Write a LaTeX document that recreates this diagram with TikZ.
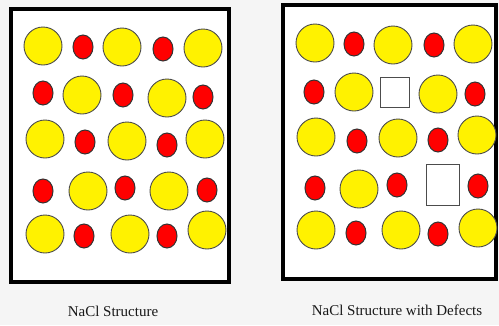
\documentclass[tikz,border=0pt]{standalone}
\usepackage{fontspec}
\setmainfont{Liberation Serif}
\usetikzlibrary{shapes.geometric}
\begin{document}
\begin{tikzpicture}[x=1pt,y=-1pt,
  cl/.style={circle,draw=black!70,line width=0.9pt,fill=yellow,minimum size=38pt,inner sep=0pt},
  na/.style={ellipse,draw=black!80,line width=1pt,fill=red,minimum width=20pt,minimum height=24pt,inner sep=0pt},
  vac/.style={rectangle,draw=black!70,line width=0.9pt,fill=white,inner sep=0pt},
  frame/.style={draw=black,line width=4pt,fill=white},
  caption/.style={font=\fontsize{15}{17}\selectfont,text=black!90,inner sep=0pt}]
\fill[gray!8] (0,0) rectangle (499,325);
\useasboundingbox (0,0) rectangle (499,325);
% lattice frames
\draw[frame] (11,9) rectangle (229,282);
\draw[frame] (283,5) rectangle (496,279);
% perfect lattice
\node[cl] (a11) at (43,46) {};
\node[na] (a12) at (83,47) {};
\node[cl] (a13) at (122,47) {};
\node[na] (a14) at (163,49) {};
\node[cl] (a15) at (203,48) {};
\node[na] (a21) at (43,93) {};
\node[cl] (a22) at (82,95) {};
\node[na] (a23) at (123,95) {};
\node[cl] (a24) at (167,98) {};
\node[na] (a25) at (203,97) {};
\node[cl] (a31) at (45,139) {};
\node[na] (a32) at (85,142) {};
\node[cl] (a33) at (127,141) {};
\node[na] (a34) at (167,145) {};
\node[cl] (a35) at (205,139) {};
\node[na] (a41) at (43,191) {};
\node[cl] (a42) at (88,191) {};
\node[na] (a43) at (125,188) {};
\node[cl] (a44) at (169,191) {};
\node[na] (a45) at (207,190) {};
\node[cl] (a51) at (45,234) {};
\node[na] (a52) at (84,236) {};
\node[cl] (a53) at (130,234) {};
\node[na] (a54) at (167,236) {};
\node[cl] (a55) at (207,230) {};
% lattice with vacancies
\node[cl] (b11) at (315,43) {};
\node[na] (b12) at (354,44) {};
\node[cl] (b13) at (393,45) {};
\node[na] (b14) at (434,45) {};
\node[cl] (b15) at (473,44) {};
\node[na] (b21) at (314,92) {};
\node[cl] (b22) at (354,92) {};
\node[vac,minimum width=29pt,minimum height=30pt] (b23) at (395,92) {};
\node[cl] (b24) at (438,94) {};
\node[na] (b25) at (475,94) {};
\node[cl] (b31) at (316,137) {};
\node[na] (b32) at (357,141) {};
\node[cl] (b33) at (398,138) {};
\node[na] (b34) at (438,140) {};
\node[cl] (b35) at (477,135) {};
\node[na] (b41) at (315,188) {};
\node[cl] (b42) at (359,189) {};
\node[na] (b43) at (397,185) {};
\node[vac,minimum width=33pt,minimum height=41pt] (b44) at (443,185) {};
\node[na] (b45) at (478,186) {};
\node[cl] (b51) at (316,230) {};
\node[na] (b52) at (356,233) {};
\node[cl] (b53) at (401,230) {};
\node[na] (b54) at (438,234) {};
\node[cl] (b55) at (478,228) {};
% captions
\node[caption] (t1) at (113,311) {NaCl Structure};
\node[caption] (t2) at (397,310) {NaCl Structure with Defects};
\end{tikzpicture}
\end{document}
